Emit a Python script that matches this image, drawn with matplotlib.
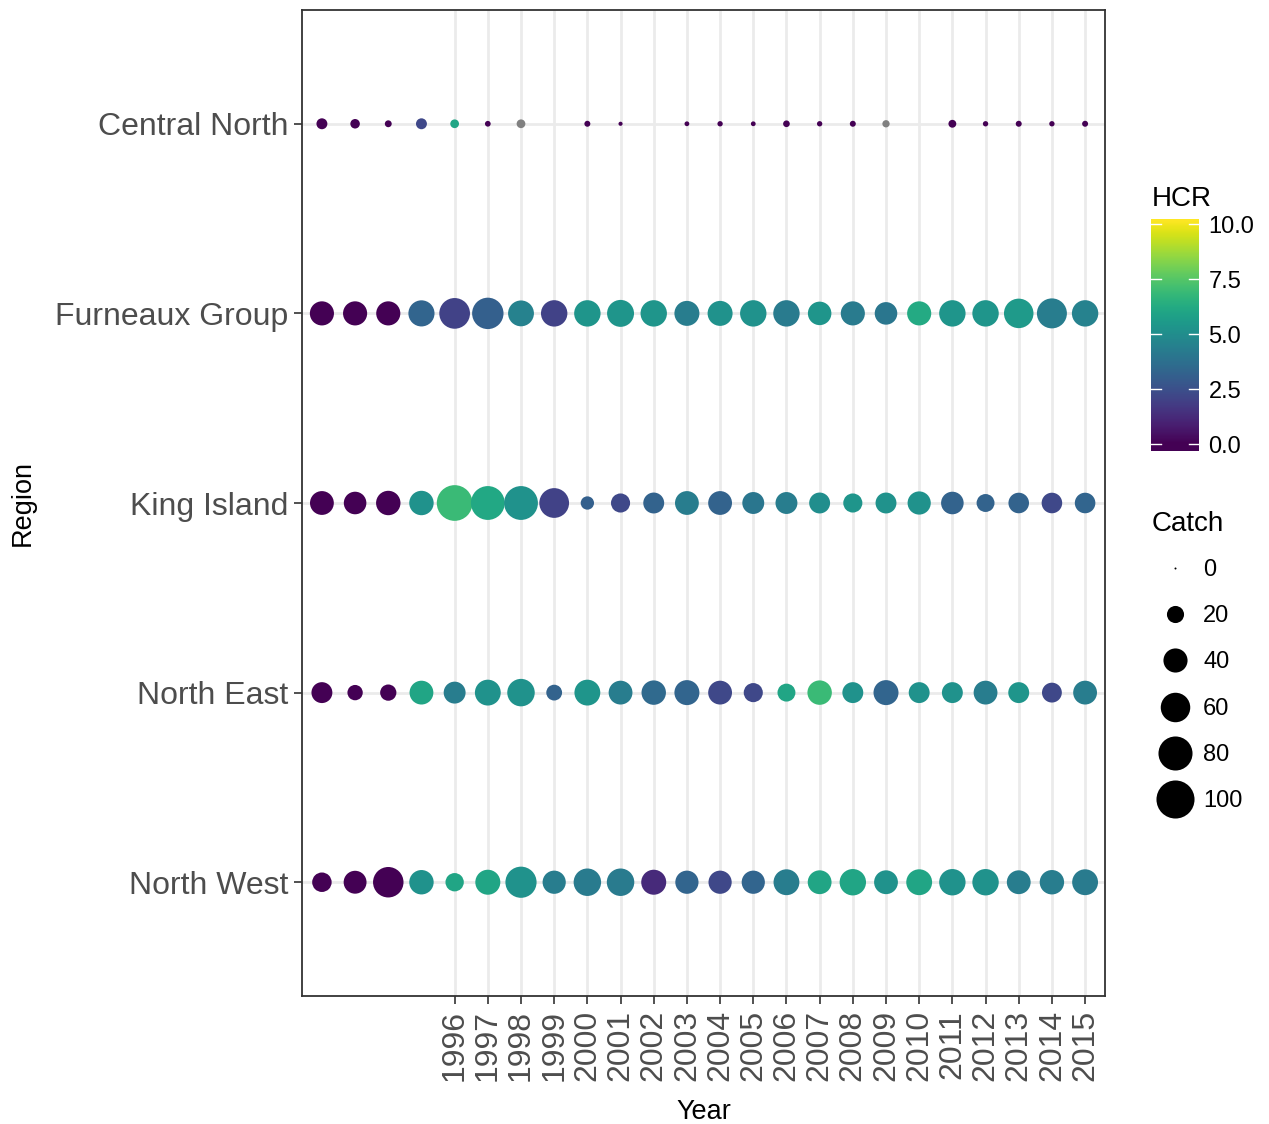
import matplotlib.pyplot as plt
import numpy as np
from matplotlib import cm
from matplotlib.colors import Normalize

plt.rcParams['font.family'] = ['Liberation Sans', 'DejaVu Sans']

years = list(range(1992, 2016))
regions = ['North West', 'North East', 'King Island', 'Furneaux Group', 'Central North']

# catch per region (None = no point)
catch_nw = [26, 36, 64, 41, 23, 43, 67, 37, 52, 52, 43, 37, 37, 37, 46, 39, 48, 39, 46, 48, 48, 39, 41, 46]
catch_ne = [30, 16, 18, 39, 33, 46, 52, 17, 46, 39, 41, 43, 39, 25, 22, 41, 30, 43, 30, 30, 39, 30, 27, 39]
catch_ki = [39, 35, 41, 41, 88, 79, 79, 61, 12, 25, 30, 39, 39, 33, 33, 30, 25, 30, 37, 35, 22, 29, 29, 29]
catch_fg = [40, 40, 40, 47, 65, 68, 46, 48, 48, 50, 48, 43, 43, 48, 48, 38, 40, 35, 40, 48, 48, 60, 62, 48]
catch_cn = [8, 6, 3, 8, 5, 2, 5, None, 2.2, 0.9, None, 1.3, 1.7, 1.3, 2.8, 1.7, 2.2, 3.4, None, 4, 1.7, 2.2, 1.7, 2.2]

# HCR per region (None = NA, drawn grey)
hcr_nw = [0, 0, 0, 5.2, 6.0, 6.0, 5.2, 4.3, 4.2, 4.2, 1.2, 3.3, 2.2, 3.3, 4.3, 6.0, 6.0, 5.2, 6.0, 5.2, 5.2, 4.3, 4.3, 4.2]
hcr_ne = [0, 0, 0, 6.0, 4.3, 5.2, 5.2, 3.2, 5.3, 4.3, 3.5, 3.3, 2.2, 2.2, 6.0, 6.9, 5.2, 3.3, 5.2, 5.2, 4.3, 5.3, 2.2, 4.3]
hcr_ki = [0, 0, 0, 5.2, 6.9, 6.1, 5.2, 2.0, 3.1, 2.2, 3.2, 4.3, 3.2, 4.0, 4.3, 5.0, 5.3, 5.2, 5.2, 3.2, 3.2, 3.2, 2.2, 3.3]
hcr_fg = [0, 0, 0, 3.3, 2.0, 3.1, 4.5, 2.0, 5.3, 5.3, 5.3, 4.3, 5.2, 5.2, 4.2, 5.3, 4.2, 4.0, 6.2, 5.3, 5.3, 5.5, 4.3, 4.5]
hcr_cn = [0, 0, 0, 2.2, 6.0, 0, None, None, 0, 0, None, 0, 0, 0, 0, 0, 0, None, None, 0, 0, 0, 0, 0]

catch_all = [catch_nw, catch_ne, catch_ki, catch_fg, catch_cn]
hcr_all = [hcr_nw, hcr_ne, hcr_ki, hcr_fg, hcr_cn]

legend_catch = [0, 20, 40, 60, 80, 100]
cbar_ticks = [0.0, 2.5, 5.0, 7.5, 10.0]

W, H = 1269, 1124
fig = plt.figure(figsize=(W / 100, H / 100), dpi=100)
cmap = plt.get_cmap('viridis')
norm = Normalize(vmin=0, vmax=10.2)


def msize(c):
    # scatter size (pt^2) from catch, area proportional
    d_px = np.sqrt(38.0 ** 2 * np.asarray(c, dtype=float) / 100 + 2.0 ** 2)
    return (d_px * 0.72) ** 2


ax = fig.add_axes([302 / W, 1 - 996 / H, (1105 - 302) / W, (996 - 10) / H])
grid_c = '#ebebeb'
for y in range(len(regions)):
    ax.axhline(y, color=grid_c, lw=2.0, zorder=0)
for yr in years[4:]:
    ax.axvline(yr, color=grid_c, lw=2.0, zorder=0)

for i, reg in enumerate(regions):
    xs, ss, cs = [], [], []
    for yr, c, h in zip(years, catch_all[i], hcr_all[i]):
        if c is None:
            continue
        xs.append(yr)
        ss.append(msize(c))
        cs.append('#808080' if h is None else cmap(norm(h)))
    ax.scatter(xs, [i] * len(xs), s=ss, c=cs, linewidths=0, zorder=3)

ax.set_xlim(1991.4, 2015.6)
ax.set_ylim(-0.6, 4.6)
ax.set_yticks(range(len(regions)))
ax.set_yticklabels(regions, fontsize=23, color='#4d4d4d')
ax.set_xticks(years[4:])
ax.set_xticklabels([str(y) for y in years[4:]], rotation=90, fontsize=23, color='#4d4d4d')
ax.tick_params(length=6, width=1.2, color='#333333', pad=4)
for sp in ax.spines.values():
    sp.set_color('#333333')
    sp.set_linewidth(1.3)
ax.set_xlabel('Year', fontsize=19.5, labelpad=13)
ax.set_ylabel('Region', fontsize=19.5, labelpad=14)

# colourbar
cax = fig.add_axes([1151 / W, 1 - 451 / H, (1199 - 1151) / W, (451 - 219) / H])
grad = np.linspace(-0.32, 10.23, 300).reshape(-1, 1)
cax.imshow(grad, aspect='auto', origin='lower', cmap=cmap, norm=norm,
           extent=[0, 1, -0.32, 10.23])
cax.set_xlim(0, 1)
cax.set_ylim(-0.32, 10.23)
for t in cbar_ticks:
    cax.plot([0, 0.2], [t, t], color='white', lw=1)
    cax.plot([0.8, 1], [t, t], color='white', lw=1)
cax.set_xticks([])
cax.set_yticks([])
for sp in cax.spines.values():
    sp.set_visible(False)
for t in cbar_ticks:
    cax.text(1.2, t - 0.15, '%.1f' % t, fontsize=17, va='center', ha='left')
fig.text(1152 / W, 1 - 199 / H, 'HCR', fontsize=20, va='center', ha='left')

# size legend
lax = fig.add_axes([0, 0, 1, 1])
lax.set_xlim(0, W)
lax.set_ylim(H, 0)
lax.axis('off')
fig.text(1152 / W, 1 - 524 / H, 'Catch', fontsize=20, va='center', ha='left')
ly = 568
for c in legend_catch:
    lax.scatter([1175], [ly], s=msize(c), color='black', linewidths=0)
    lax.text(1203, ly + 2, str(c), fontsize=17, va='center', ha='left')
    ly += 46.2

fig.savefig('out.png', dpi=100)
